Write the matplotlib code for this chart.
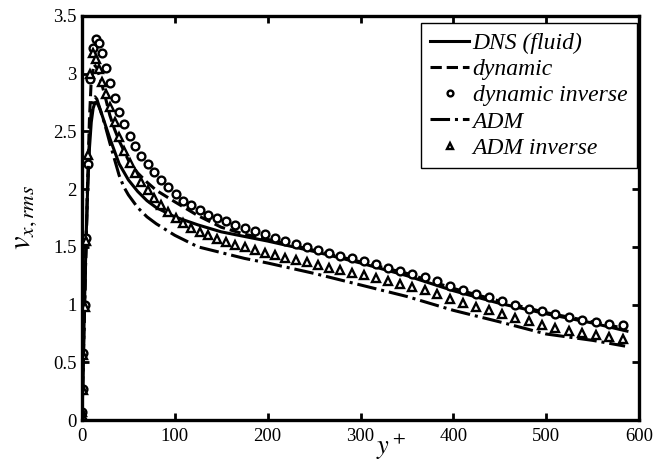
import matplotlib
matplotlib.use('Agg')
import matplotlib.pyplot as plt

# ---------------- data ----------------
yplus_inv = [0, 0.18, 0.72, 1.62, 2.89, 4.51, 6.49, 8.82, 11.52, 14.56, 17.96, 21.71,
             25.80, 30.24, 35.03, 40.15, 45.61, 51.40, 57.53, 63.98, 70.75, 77.83,
             85.23, 92.94, 100.96, 109.27, 117.88, 126.77, 135.94, 145.41, 155.14,
             165.14, 175.39, 185.90, 196.66, 207.66, 218.89, 230.35, 242.03, 253.92,
             266.01, 278.31, 290.80, 303.46, 316.31, 329.32, 342.49, 355.81, 369.28,
             382.88, 396.61, 410.46, 424.41, 438.47, 452.62, 466.85, 481.16, 495.54,
             509.97, 524.45, 538.98, 553.53, 568.11, 582.70]

dyn_inverse = [0.0, 0.07, 0.27, 0.58, 1.00, 1.58, 2.22, 2.95, 3.22, 3.30, 3.27, 3.18,
               3.05, 2.92, 2.79, 2.67, 2.56, 2.46, 2.37, 2.29, 2.22, 2.15,
               2.08, 2.02, 1.96, 1.90, 1.86, 1.82, 1.78, 1.75, 1.72,
               1.69, 1.66, 1.635, 1.61, 1.58, 1.55, 1.525, 1.50, 1.475,
               1.45, 1.425, 1.40, 1.375, 1.35, 1.32, 1.295, 1.265, 1.235,
               1.20, 1.165, 1.13, 1.095, 1.065, 1.03, 0.995, 0.965, 0.94,
               0.915, 0.89, 0.87, 0.85, 0.835, 0.825]

adm_inverse = [0.0, 0.07, 0.26, 0.56, 0.98, 1.55, 2.30, 3.00, 3.18, 3.13, 3.04, 2.93,
               2.82, 2.71, 2.58, 2.45, 2.33, 2.23, 2.14, 2.06, 1.99, 1.92,
               1.86, 1.80, 1.75, 1.705, 1.665, 1.63, 1.60, 1.57, 1.545,
               1.52, 1.50, 1.475, 1.45, 1.43, 1.405, 1.385, 1.365, 1.345,
               1.32, 1.30, 1.275, 1.255, 1.23, 1.205, 1.18, 1.155, 1.125,
               1.09, 1.05, 1.015, 0.98, 0.95, 0.915, 0.885, 0.855, 0.825,
               0.80, 0.775, 0.75, 0.735, 0.715, 0.70]

dns_yplus = [0, 1, 2, 3, 4, 5, 6, 8, 10, 12, 14, 16, 18, 20, 25, 30, 35, 40, 50, 60,
             70, 80, 100, 125, 150, 175, 200, 250, 300, 350, 400, 450, 500, 550, 587]
dns_v = [0, 0.37, 0.74, 1.10, 1.43, 1.73, 1.98, 2.35, 2.58, 2.70, 2.75, 2.75, 2.72,
         2.68, 2.56, 2.44, 2.33, 2.22, 2.08, 1.98, 1.90, 1.84, 1.76, 1.69, 1.63,
         1.59, 1.55, 1.46, 1.36, 1.25, 1.12, 1.01, 0.92, 0.84, 0.77]

dyn_yplus = [0, 2, 4, 6, 8, 10, 13, 16, 20, 25, 30, 35, 40, 50, 60, 70, 80, 100, 125,
             150, 175, 200, 250, 300, 350, 400, 450, 500, 550, 587]
dyn_v = [0, 0.72, 1.40, 2.05, 2.60, 2.95, 3.08, 3.05, 2.95, 2.80, 2.64, 2.52, 2.42,
         2.25, 2.14, 2.06, 1.99, 1.89, 1.77, 1.67, 1.61, 1.565, 1.47, 1.37, 1.27,
         1.14, 1.03, 0.93, 0.85, 0.79]

adm_yplus = [0, 2, 4, 6, 8, 10, 12, 14, 16, 20, 25, 30, 35, 40, 45, 50, 60, 70, 80,
             100, 125, 150, 175, 200, 250, 300, 350, 400, 450, 500, 550, 585]
adm_v = [0, 0.72, 1.40, 2.00, 2.45, 2.68, 2.78, 2.80, 2.78, 2.68, 2.55, 2.40, 2.26,
         2.12, 2.02, 1.95, 1.84, 1.76, 1.70, 1.60, 1.50, 1.45, 1.40, 1.36, 1.27,
         1.17, 1.07, 0.95, 0.85, 0.745, 0.69, 0.64]

xticks = [0, 100, 200, 300, 400, 500, 600]
yticks = [0, 0.5, 1, 1.5, 2, 2.5, 3, 3.5]
yticklabels = ['0', '0.5', '1', '1.5', '2', '2.5', '3', '3.5']
labels = ['DNS (fluid)', 'dynamic', 'dynamic inverse', 'ADM', 'ADM inverse']

# ---------------- plot ----------------
plt.rcParams['font.family'] = ['Liberation Serif', 'DejaVu Serif']
plt.rcParams['mathtext.fontset'] = 'stix'

fig = plt.figure(figsize=(6.66, 4.66), dpi=100)
ax = fig.add_axes([0.1231, 0.0987, 0.9595 - 0.1231, 0.9657 - 0.0987])

lw = 2.2
ax.plot(dns_yplus, dns_v, '-', color='k', lw=lw, label=labels[0])
ax.plot(dyn_yplus, dyn_v, '--', color='k', lw=lw, label=labels[1])
ax.plot(yplus_inv, dyn_inverse, 'o', color='k', mfc='white', mec='k', ms=5.6,
        mew=1.7, ls='none', label=labels[2])
ax.plot(adm_yplus, adm_v, '-.', color='k', lw=lw, label=labels[3])
ax.plot(yplus_inv, adm_inverse, '^', color='k', mfc='white', mec='k', ms=6.2,
        mew=1.7, ls='none', label=labels[4])

ax.set_xlim(0, 600)
ax.set_ylim(0, 3.5)
ax.set_xticks(xticks)
ax.set_xticklabels([str(t) for t in xticks])
ax.set_yticks(yticks)
ax.set_yticklabels(yticklabels)
ax.tick_params(direction='in', length=5, width=2, top=True, right=True,
               labelsize=13.5)
ax.tick_params(axis='x', pad=6)
ax.tick_params(axis='y', pad=4)
for s in ax.spines.values():
    s.set_linewidth(2.4)

ax.set_xlabel(r'$y^+$', fontsize=19)
ax.xaxis.set_label_coords(0.555, -0.03)
ax.set_ylabel(r'$v_{x,rms}$', fontsize=22)
ax.yaxis.set_label_coords(-0.078, 0.5)

leg = ax.legend(loc='upper right', bbox_to_anchor=(0.996, 0.983), borderaxespad=0,
                prop={'family': 'Liberation Serif', 'style': 'italic', 'size': 17},
                handlelength=1.65, handletextpad=0.15, labelspacing=0.2,
                borderpad=0.4, markerscale=0.75, fancybox=False, framealpha=1)
leg.get_frame().set_edgecolor('k')
leg.get_frame().set_linewidth(1.0)

fig.savefig('out.png', dpi=100)
